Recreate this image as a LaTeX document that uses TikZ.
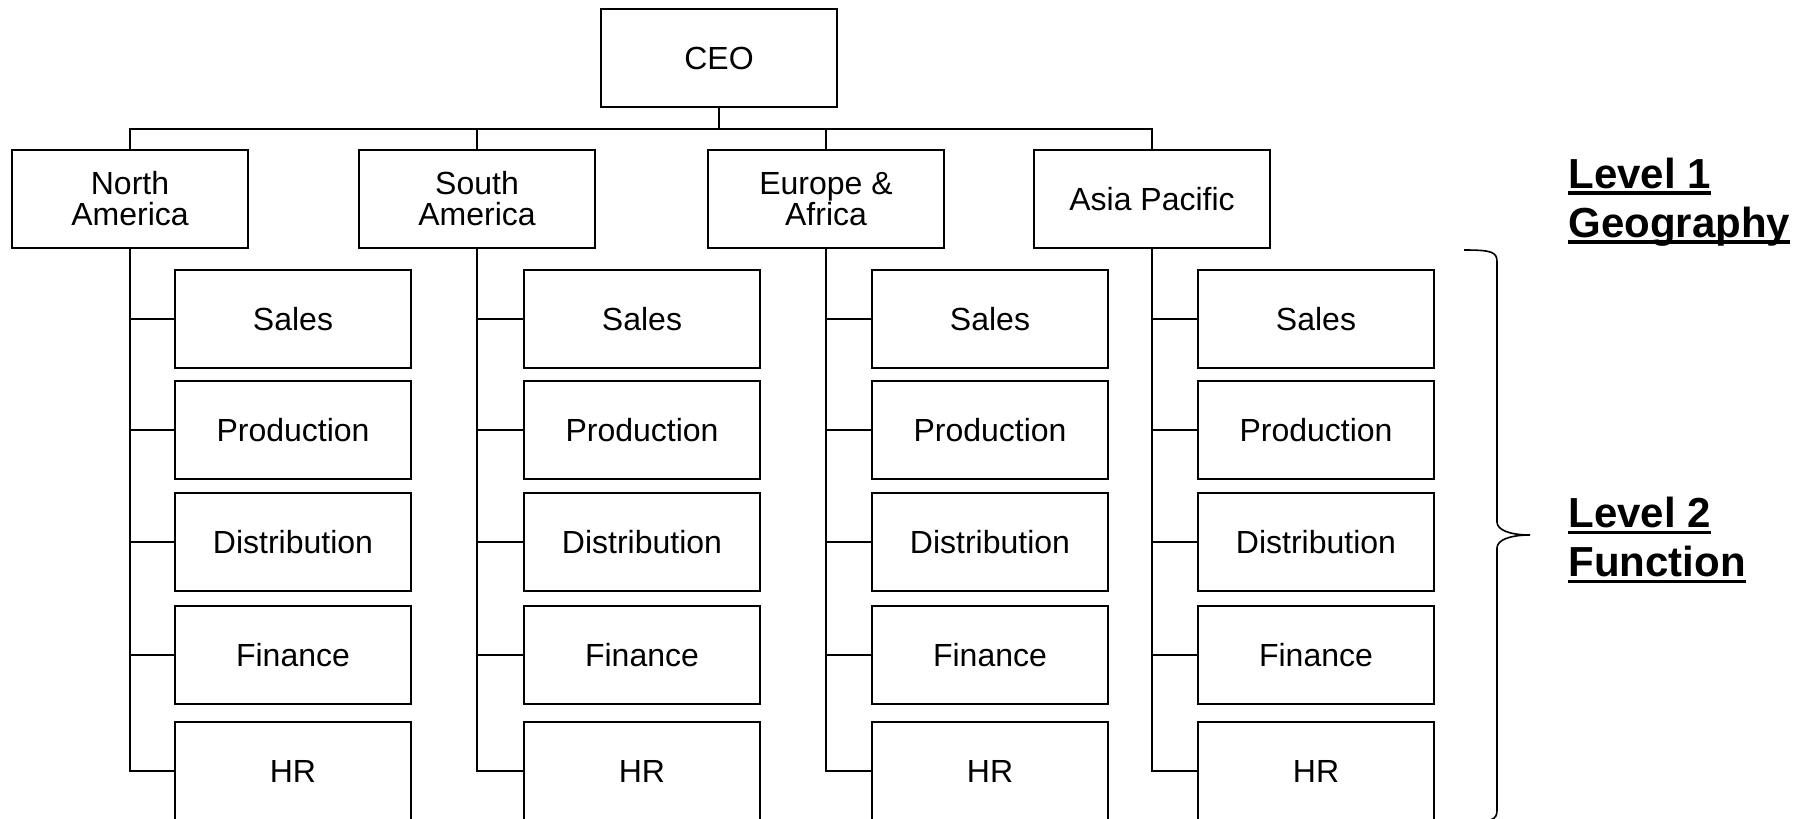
\documentclass[tikz,border=0pt]{standalone}
\usepackage{fontspec}
\setmainfont{Liberation Sans}
\usetikzlibrary{positioning}
\newcommand{\ulab}[1]{\setbox0\hbox{#1}\rlap{\rule[-3.2pt]{\wd0}{1.6pt}}\box0}
\tikzset{
  unit/.style = {draw, line width=1pt, minimum width=118pt, minimum height=49pt,
                 inner sep=0pt, align=center, font=\fontsize{16}{15.5}\selectfont},
  level/.style = {anchor=west, align=left, inner sep=0pt,
                  font=\fontsize{21}{24.5}\selectfont\bfseries},
  link/.style = {line width=0.8pt}
}

\begin{document}
\begin{tikzpicture}[x=0.5pt, y=-0.5pt]
  \useasboundingbox (0,0) rectangle (1801,819);
  \node[unit] (ceo) at (719,58) {CEO};
  \coordinate (bus) at (719,129);
  % level 1: regions
  \node[unit] (na) at (130,199)  {North\\America};
  \node[unit] (sa) at (477,199)  {South\\America};
  \node[unit] (ea) at (826,199)  {Europe \&\\Africa};
  \node[unit] (ap) at (1152,199) {Asia Pacific};
  \foreach \r in {na,sa,ea,ap}
    \draw[link] (ceo.south) -- (bus) -| (\r.north);
  % level 2: functions under each region
  \foreach \r/\x in {na/293, sa/642, ea/990, ap/1316} {
    \foreach \f/\y/\txt in {sales/319/Sales, prod/430/Production, dist/542/Distribution,
                            fin/655/Finance, hr/771/HR} {
      \node[unit] (\r-\f) at (\x,\y) {\txt};
      \draw[link] (\r.south) |- (\r-\f.west);
    }
  }
  % brace
  \coordinate (btop) at (1464,250);
  \coordinate (btip) at (1530,535);
  \coordinate (bbot) at (1464,822);
  \draw[link] (btop) .. controls (1492,250) and (1497,252) .. (1497,262)
    -- (1497,522) .. controls (1497,530) and (1510,535) .. (btip)
    .. controls (1510,535) and (1497,540) .. (1497,548)
    -- (1497,810) .. controls (1497,820) and (1492,822) .. (bbot);
  \node[level] (lvl1) at (1568,202) {\ulab{Level 1}\\\ulab{Geography}};
  \node[level] (lvl2) at (1568,540) {\ulab{Level 2}\\\ulab{Function}};
\end{tikzpicture}
\end{document}
